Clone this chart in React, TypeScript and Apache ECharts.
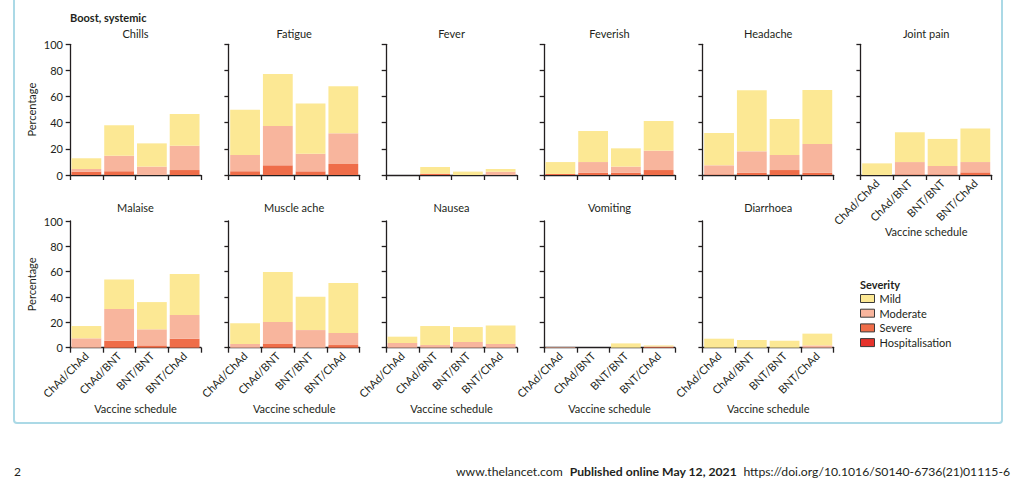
import React, { useEffect, useRef } from "react";
import * as echarts from "echarts";

// ---- data (percentages of participants) ----
const schedules = ["ChAd/ChAd", "ChAd/BNT", "BNT/BNT", "BNT/ChAd"];
const symptoms = [
  "Chills", "Fatigue", "Fever", "Feverish", "Headache", "Joint pain",
  "Malaise", "Muscle ache", "Nausea", "Vomiting", "Diarrhoea",
];
const severities = ["Mild", "Moderate", "Severe", "Hospitalisation"];
const yTicks = [0, 20, 40, 60, 80, 100];

// one row per symptom (same order as `symptoms`), one value per schedule
const mild = [
  [8.2, 23.2, 17.8, 24.3],
  [34.7, 39.8, 38.5, 36.0],
  [0, 5.1, 2.6, 2.0],
  [9.1, 23.8, 14.0, 22.7],
  [24.7, 46.7, 27.6, 41.3],
  [8.9, 22.8, 20.7, 25.6],
  [9.7, 23.4, 21.5, 32.4],
  [16.3, 39.4, 26.4, 39.4],
  [5.0, 15.0, 11.8, 14.7],
  [0, 0, 3.4, 0.8],
  [7.1, 6.1, 5.5, 9.3],
];
const moderate = [
  [2.0, 12.0, 6.4, 18.6],
  [12.5, 30.1, 13.5, 23.5],
  [0, 0, 0, 2.5],
  [0, 8.1, 4.6, 14.8],
  [6.9, 16.3, 11.5, 21.9],
  [0, 9.4, 6.4, 7.9],
  [7.4, 25.0, 12.7, 18.7],
  [2.9, 17.4, 13.9, 9.5],
  [3.7, 2.1, 4.5, 2.9],
  [0.5, 0, 0, 0.5],
  [0, 0, 0, 1.8],
];
const severe = [
  [2.6, 2.8, 0, 3.8],
  [2.8, 7.4, 2.8, 8.4],
  [0, 1.0, 0, 0],
  [0.8, 1.8, 1.8, 3.8],
  [0.5, 1.8, 3.8, 1.8],
  [0, 0.5, 0.5, 2.0],
  [0, 5.5, 1.8, 7.1],
  [0, 2.9, 0, 2.1],
  [0, 0, 0, 0],
  [0, 0, 0, 0.5],
  [0, 0, 0, 0],
];
const hospitalisation = [
  [0, 0, 0, 0], [0, 0, 0, 0], [0, 0, 0, 0], [0, 0, 0, 0],
  [0, 0, 0, 0], [0, 0, 0, 0], [0, 0, 0, 0], [0, 0, 0, 0],
  [0, 0, 0, 0], [0, 0, 0, 0], [0, 0, 0, 0],
];

// ---- styling / layout ----
const colors = {
  Mild: "#FCE894",
  Moderate: "#F8B59D",
  Severe: "#EF6D49",
  Hospitalisation: "#E5322B",
};
const FONT = "Lato, 'Open Sans', sans-serif";
const TEXT = "#231f20";
const AXIS = "#231f20";
const colLeft = [70, 228.7, 386, 544, 702.7, 860.7];
const plotWidth = 131;
const rowTop = [44.3, 221];
const rowHeight = [130.7, 126.7];
const titleY = [33, 207];

function buildOption() {
  const grid: any[] = [];
  const xAxis: any[] = [];
  const yAxis: any[] = [];
  const series: any[] = [];
  const graphic: any[] = [];

  const layers: [string, number[][]][] = [
    ["Hospitalisation", hospitalisation],
    ["Severe", severe],
    ["Moderate", moderate],
    ["Mild", mild],
  ];

  symptoms.forEach((name, i) => {
    const row = i < 6 ? 0 : 1;
    const col = row === 0 ? i : i - 6;
    const left = colLeft[col];
    const top = rowTop[row];
    const height = rowHeight[row];
    grid.push({ left, top, width: plotWidth, height });
    const showX = row === 1 || i === 5;
    const showY = col === 0;

    xAxis.push({
      gridIndex: i,
      type: "category",
      data: schedules,
      boundaryGap: true,
      axisLine: { show: true, lineStyle: { color: AXIS, width: 1.3 } },
      axisTick: { show: true, interval: 0, length: 5, lineStyle: { color: AXIS, width: 1.3 } },
      axisLabel: {
        show: showX,
        interval: 0,
        rotate: 45,
        margin: 6,
        fontSize: 11,
        color: TEXT,
        fontFamily: FONT,
      },
      name: showX ? "Vaccine schedule" : "",
      nameLocation: "middle",
      nameGap: row === 1 ? 55 : 51,
      nameMoveOverlap: false,
      nameTextStyle: { fontSize: 11, color: TEXT, fontFamily: FONT },
    });

    yAxis.push({
      gridIndex: i,
      type: "value",
      min: yTicks[0],
      max: yTicks[yTicks.length - 1],
      interval: yTicks[1] - yTicks[0],
      axisLine: { show: true, lineStyle: { color: AXIS, width: 1.3 } },
      axisTick: { show: true, length: 4.3, lineStyle: { color: AXIS, width: 1.3 } },
      splitLine: { show: false },
      axisLabel: { show: showY, margin: 7, fontSize: 11, color: TEXT, fontFamily: FONT },
      name: showY ? "Percentage" : "",
      nameLocation: "middle",
      nameGap: 33,
      nameMoveOverlap: false,
      nameTextStyle: { fontSize: 11, color: TEXT, fontFamily: FONT },
    });

    layers.forEach(([sev, arr]) => {
      series.push({
        type: "bar",
        name: sev,
        xAxisIndex: i,
        yAxisIndex: i,
        stack: "s" + i,
        barCategoryGap: "9%",
        data: arr[i],
        itemStyle: { color: (colors as any)[sev] },
        emphasis: { disabled: true },
      });
    });

    graphic.push({
      type: "text",
      x: left + plotWidth / 2,
      y: titleY[row],
      style: {
        text: name,
        fontSize: 11,
        fontFamily: FONT,
        fill: TEXT,
        align: "center",
        verticalAlign: "middle",
      },
    });
  });

  graphic.push(
    {
      type: "text",
      x: 70,
      y: 17,
      style: {
        text: "Boost, systemic",
        fontSize: 11,
        fontWeight: "bold",
        fontFamily: FONT,
        fill: TEXT,
        align: "left",
        verticalAlign: "middle",
      },
    },
    {
      type: "text",
      x: 860,
      y: 284,
      style: {
        text: "Severity",
        fontSize: 11,
        fontWeight: "bold",
        fontFamily: FONT,
        fill: TEXT,
        align: "left",
        verticalAlign: "middle",
      },
    },
    {
      type: "rect",
      shape: { x: 14, y: -6, width: 988, height: 429, r: 3 },
      style: { fill: "none", stroke: "#ABD9E6", lineWidth: 2 },
      silent: true,
    },
    {
      type: "text",
      x: 14,
      y: 471,
      style: {
        text: "2",
        fontSize: 12,
        fontFamily: FONT,
        fill: TEXT,
        align: "left",
        verticalAlign: "middle",
      },
    },
    {
      type: "text",
      x: 1010,
      y: 471,
      style: {
        text:
          "{a|www.thelancet.com}  {b|Published online May 12, 2021}  {a|https://doi.org/10.1016/S0140-6736(21)01115-6}",
        align: "right",
        verticalAlign: "middle",
        rich: {
          a: { fontSize: 12.2, fontFamily: FONT, fill: TEXT, color: TEXT },
          b: { fontSize: 12.2, fontFamily: FONT, fontWeight: "bold", fill: TEXT, color: TEXT },
        },
      },
    }
  );

  return {
    animation: false,
    backgroundColor: "#ffffff",
    grid,
    xAxis,
    yAxis,
    series,
    graphic,
    legend: {
      orient: "vertical",
      left: 860,
      top: 292.5,
      padding: 0,
      data: severities,
      icon: "rect",
      itemWidth: 14,
      itemHeight: 8,
      itemGap: 2.7,
      selectedMode: false,
      itemStyle: { borderColor: "#3a3a3a", borderWidth: 1 },
      textStyle: { fontSize: 11, color: TEXT, fontFamily: FONT, lineHeight: 12 },
    },
  };
}

export default function App() {
  const ref = useRef<HTMLDivElement>(null);
  useEffect(() => {
    if (!ref.current) return;
    const chart = echarts.init(ref.current, undefined, { renderer: "svg" });
    chart.setOption(buildOption() as any);
    return () => chart.dispose();
  }, []);
  return (
    <div
      ref={ref}
      style={{ position: "fixed", left: 0, top: 0, width: 1022, height: 485, background: "#fff" }}
    />
  );
}
